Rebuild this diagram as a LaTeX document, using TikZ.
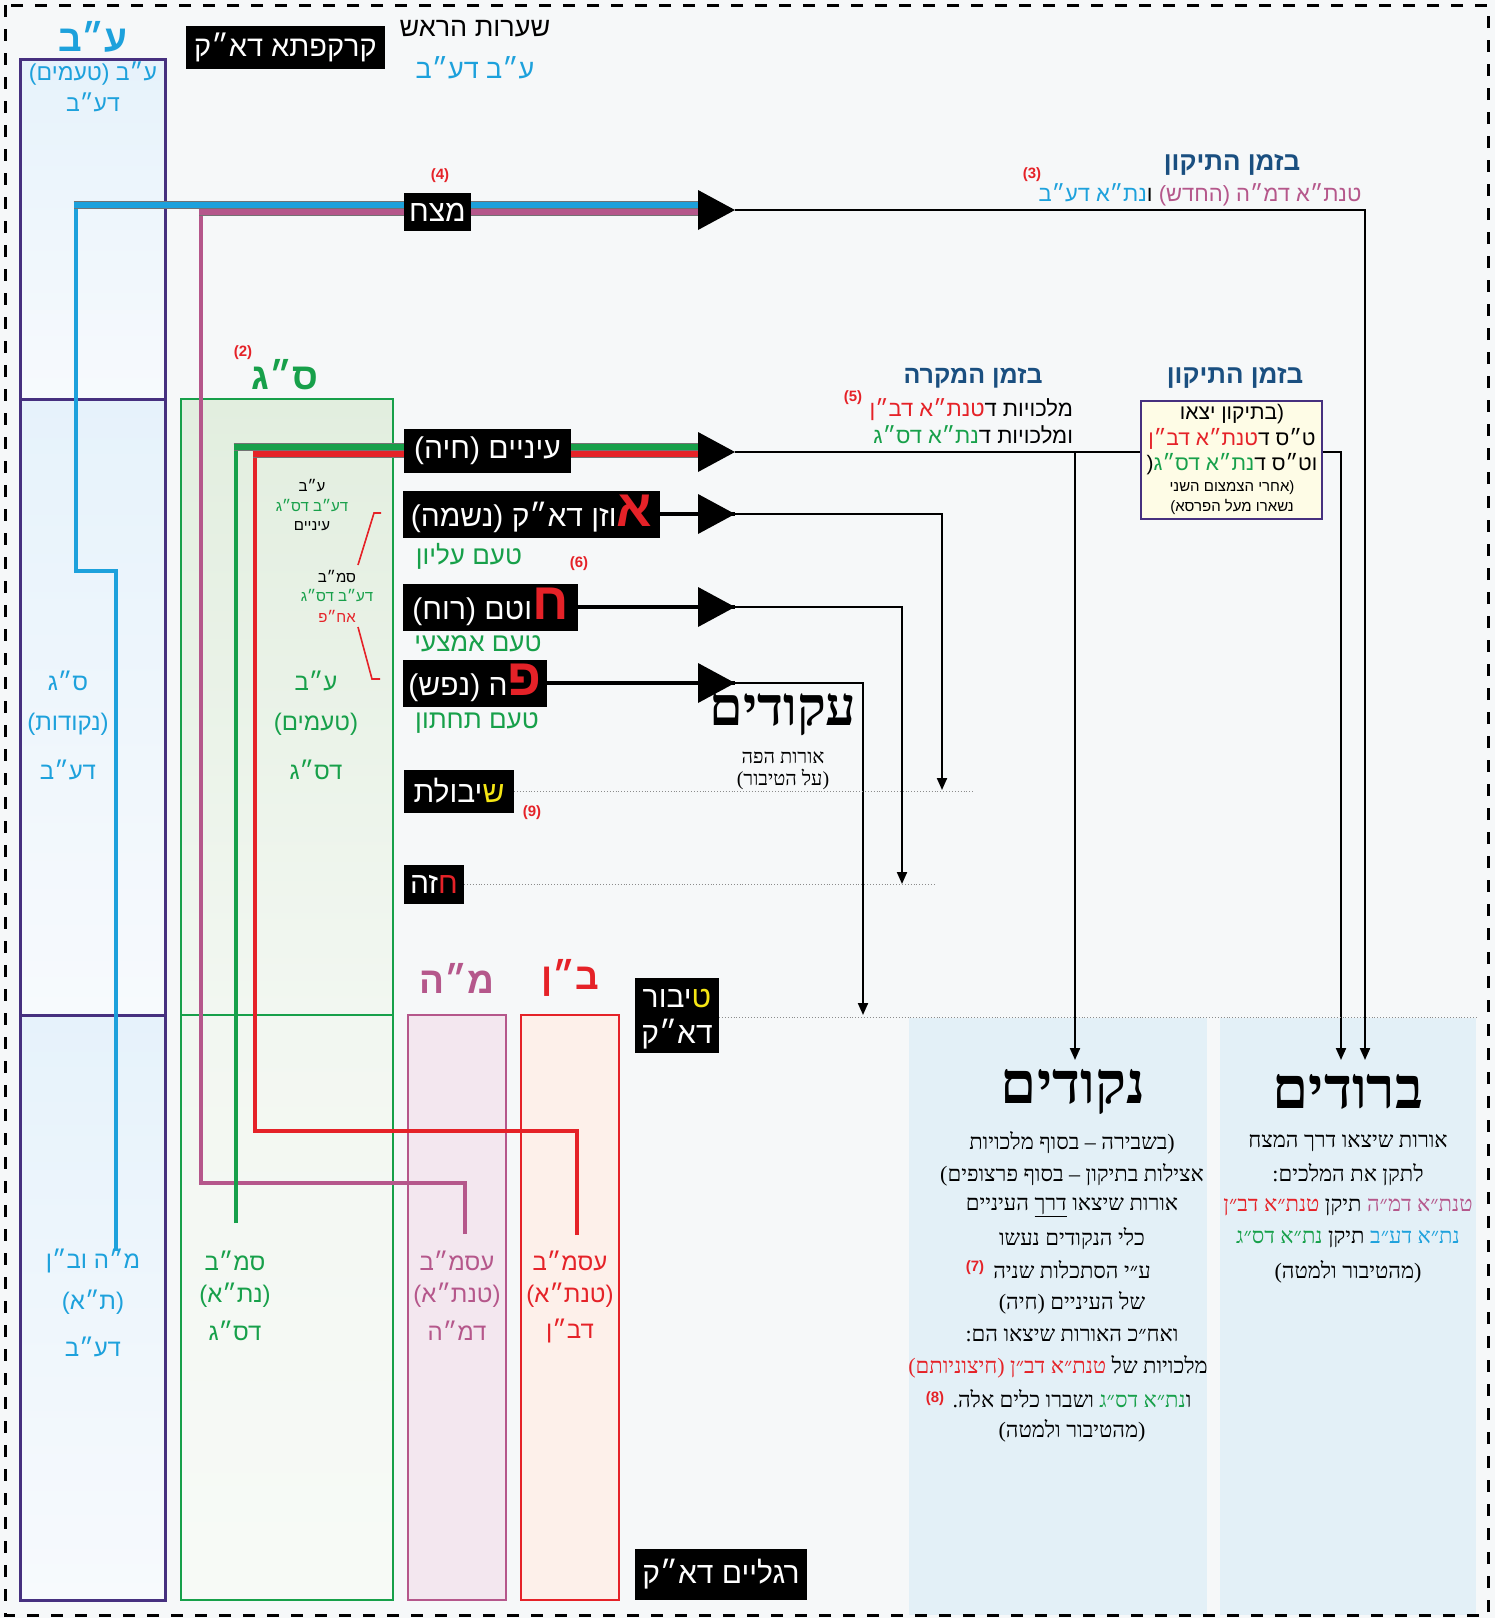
\documentclass[tikz,border=0pt]{standalone}
\usepackage{fontspec}
\usetikzlibrary{arrows.meta}
\TeXXeTstate=1
\newfontfamily\heb[Script=Hebrew]{Liberation Sans}
\newfontfamily\hebs[Script=Hebrew]{Liberation Serif}
\newcommand\fs[1]{\fontsize{#1}{#1}\selectfont}
\newcommand\RTx[1]{\beginR #1\endR}
\newcommand\seg[2]{{\color{#1}\beginR #2\endR}}
\definecolor{cblue}{HTML}{1DA1DC}
\definecolor{cgreen}{HTML}{17A04A}
\definecolor{cred}{HTML}{E52228}
\definecolor{cpink}{HTML}{B5578B}
\definecolor{cdblue}{HTML}{1A4F80}
\definecolor{cpurple}{HTML}{46307F}
\definecolor{cyellow}{HTML}{F5E614}
\definecolor{bg}{HTML}{F6F8F9}
\definecolor{panel}{HTML}{E3F0F7}
\definecolor{lbT}{HTML}{E6F2FB}
\definecolor{lbB}{HTML}{F7FAFD}
\definecolor{lgT}{HTML}{E2EEDF}
\definecolor{lgB}{HTML}{F2F7F1}
\definecolor{lpink}{HTML}{F3E7EF}
\definecolor{lred}{HTML}{FDF0EA}
\definecolor{cream}{HTML}{FEFCE6}
\begin{document}
\begin{tikzpicture}[x=1pt,y=-1pt]
\tikzset{
  txt/.style={inner sep=0pt,outer sep=0pt,font=\heb},
  bbox/.style={fill=black,text=white,inner sep=0pt,outer sep=0pt},
  num/.style={inner sep=0pt,outer sep=0pt,text=cred,font=\heb\bfseries\fs{15}},
  band/.style={line width=6.5pt},
  bandedge/.style={line width=8.2pt,black!55},
  vline/.style={line width=4.5pt},
  conn/.style={line width=2pt,black},
  endtip/.style={-{Triangle[length=12pt,width=10pt]}},
  dotl/.style={black!45,dotted,line width=0.9pt},
  thick/.style={line width=4.5pt,black},
}
\useasboundingbox (0,0) rectangle (1495,1618);
\fill[bg] (0,0) rectangle (1495,1618);
% panels
\fill[panel] (909,1018) rectangle (1207,1615);
\fill[panel] (1220,1018) rectangle (1476,1615);
% left column
\shade[top color=lbT,bottom color=lbB] (20,59) rectangle (165,399);
\shade[top color=lbT,bottom color=lbB] (20,399) rectangle (165,1015);
\shade[top color=lbT,bottom color=lbB] (20,1015) rectangle (165,1600);
\draw[cpurple,line width=3pt] (20,59) rectangle (165,1600) (20,399) -- (165,399) (20,1015) -- (165,1015);
% sg column
\shade[top color=lgT,bottom color=lgB] (181,399) rectangle (393,1015);
\shade[top color=lgB,bottom color=white!40!lgB] (181,1015) rectangle (393,1600);
\draw[cgreen,line width=2.5pt] (181,399) rectangle (393,1600) (181,1015) -- (393,1015);
% mh, bn
\draw[cpink,line width=2.5pt,fill=lpink] (408,1015) rectangle (506,1600);
\draw[cred,line width=2.5pt,fill=lred] (521,1015) rectangle (619,1600);

% coloured lines
\draw[cblue,vline] (116,1251) -- (116,571) -- (76,571) -- (76,205);
\draw[cpink,vline] (465,1234) -- (465,1183) -- (201,1183) -- (201,212);
\draw[cgreen,vline] (236,1223) -- (236,447);
\draw[cred,vline] (577,1235) -- (577,1131) -- (255,1131) -- (255,454);
\draw[bandedge] (73.5,205) -- (698,205);
\draw[cblue,band] (73.5,205) -- (698,205);
\draw[bandedge] (198.5,212) -- (698,212);
\draw[cpink,band] (198.5,212) -- (698,212);
\draw[bandedge] (233.5,447) -- (698,447);
\draw[cgreen,band] (233.5,447) -- (698,447);
\draw[bandedge] (252.5,454) -- (698,454);
\draw[cred,band] (252.5,454) -- (698,454);

% red bracket
\draw[cred,line width=1.6pt] (381,513) -- (374,513) -- (358,565);
\draw[cred,line width=1.6pt] (358,627) -- (372,679) -- (380,679);

% arrow apexes and targets
\coordinate (mzA) at (735,210);
\coordinate (mzT) at (1365,1060);
\coordinate (eyA) at (735,452);
\coordinate (eyB) at (1075,452);
\coordinate (eyN) at (1075,1060);
\coordinate (eyT) at (1341,1060);
\coordinate (ozA) at (735,514);
\coordinate (ozT) at (942,790);
\coordinate (chA) at (735,607);
\coordinate (chT) at (902,884);
\coordinate (pA) at (735,683);
\coordinate (pT) at (863,1015);

\draw[conn,endtip] (mzA) -| (mzT);
\draw[conn,endtip] (eyA) -| (eyT);
\draw[conn,endtip] (eyB) -- (eyN);
\draw[conn,endtip] (ozA) -| (ozT);
\draw[conn,endtip] (chA) -| (chT);
\draw[conn,endtip] (pA) -| (pT);

% black label boxes
\node[bbox,minimum width=67pt,minimum height=38pt,font=\heb\fs{30}] (mezach) at (437.5,212) {\RTx{מצח}};
\node[bbox,minimum width=167pt,minimum height=44pt,font=\heb\fs{30}] (einayim) at (487.5,451) {\RTx{עיניים (חיה)}};
\node[bbox,minimum width=257pt,minimum height=47pt,font=\heb\fs{30}] (ozen) at (531.5,514) {\seg{white}{וזן דא״ק (נשמה)}\seg{cred}{\fs{52}\bfseries א}};
\node[bbox,minimum width=175pt,minimum height=47pt,font=\heb\fs{30}] (chotem) at (490.5,607) {\seg{white}{וטם (רוח)}\seg{cred}{\fs{52}\bfseries ח}};
\node[bbox,minimum width=144pt,minimum height=47pt,font=\heb\fs{30}] (peh) at (475,683) {\seg{white}{ה (נפש)}\seg{cred}{\fs{52}\bfseries פ}};
\node[bbox,minimum width=110pt,minimum height=43pt,font=\heb\fs{30}] (shibolet) at (459,791) {\seg{white}{יבולת}\seg{cyellow}{ש}};
\node[bbox,minimum width=60pt,minimum height=39pt,font=\heb\fs{30}] (chaze) at (434,884) {\seg{white}{זה}\seg{cred}{ח}};
\node[bbox,minimum width=84pt,minimum height=75pt] (tibur) at (677,1015.5) {};
\node[txt,text=white,font=\heb\fs{30}] (tibur1) at (677,998) {\seg{white}{יבור}\seg{cyellow}{ט}};
\node[txt,text=white,font=\heb\fs{30}] (tibur2) at (677,1034) {\RTx{דא״ק}};
\node[bbox,minimum width=172pt,minimum height=51pt,font=\heb\fs{30}] (raglayim) at (721,1574.5) {\RTx{רגליים דא״ק}};
\node[bbox,minimum width=199pt,minimum height=43pt,font=\heb\fs{29}] (kark) at (285.5,47.5) {\RTx{קרקפתא דא״ק}};

% thick lines from boxes to big arrows
\draw[thick] (ozen.east) -- (ozA);
\draw[thick] (chotem.east) -- (chA);
\draw[thick] (peh.east) -- (pA);
\foreach \a in {mzA,eyA,ozA,chA,pA}{\fill (\a) -- ++(-37,-20) -- ++(0,40) -- cycle;}

% dotted lines
\coordinate (shD) at (975,791);
\coordinate (chD) at (934,884);
\coordinate (tbD) at (1476,1017);
\draw[dotl] (shibolet.east) -- (shD);
\draw[dotl] (chaze.east) -- (chD);
\draw[dotl] (tibur.east |- tbD) -- (tbD);

% top texts
\node[txt,text=cblue,font=\heb\bfseries\fs{37}] (tab) at (93,37) {\RTx{ע״ב}};
\node[txt,text=black,font=\heb\fs{27}] (seart) at (475,29) {\RTx{שערות הראש}};
\node[txt,text=cblue,font=\heb\fs{27}] (seartb) at (475,68) {\RTx{ע״ב דע״ב}};
\node[txt,text=cblue,font=\heb\fs{23}] (lc1) at (93,74) {\RTx{ע״ב (טעמים)}};
\node[txt,text=cblue,font=\heb\fs{23}] (lc2) at (93,102) {\RTx{דע״ב}};
\node[num] (n4) at (440,176) {(4)};
\node[txt,text=cdblue,font=\heb\bfseries\fs{26}] (hdr1) at (1232,165) {\RTx{בזמן התיקון}};
\node[txt,font=\heb\fs{22}] (hdr1b) at (1200,195) {\seg{cblue}{נת״א דע״ב}\seg{black}{ו}\ \seg{cpink}{טנת״א דמ״ה (החדש)}};
\node[num] (n3) at (1032,175) {(3)};

% sg header
\node[num] (n2) at (243,353) {(2)};
\node[txt,text=cgreen,font=\heb\bfseries\fs{37}] (sg) at (285,375) {\RTx{ס״ג}};

% bzman hamikre
\node[txt,text=cdblue,font=\heb\bfseries\fs{25}] (hdr2) at (973,378) {\RTx{בזמן המקרה}};
\node[num] (n5) at (853,398) {(5)};
\node[txt,anchor=east,font=\heb\fs{22}] (mk1) at (1073,410) {\seg{cred}{טנת״א דב״ן}\seg{black}{מלכויות ד}};
\node[txt,anchor=east,font=\heb\fs{22}] (mk2) at (1073,435) {\seg{cgreen}{נת״א דס״ג}\seg{black}{ומלכויות ד}};

% bzman hatikun box
\node[txt,text=cdblue,font=\heb\bfseries\fs{26}] (hdr3) at (1235,378) {\RTx{בזמן התיקון}};
\node[draw=cpurple,line width=1.8pt,fill=cream,minimum width=181pt,minimum height=118pt,inner sep=0pt] (tbox) at (1231.5,460) {};
\node[txt,font=\heb\fs{21}] (tb1) at (1232,414) {\RTx{(בתיקון יצאו}};
\node[txt,font=\heb\fs{21}] (tb2) at (1232,439) {\seg{cred}{טנת״א דב״ן}\seg{black}{ט״ס ד}};
\node[txt,font=\heb\fs{21}] (tb3) at (1232,464) {(\seg{cgreen}{נת״א דס״ג}\seg{black}{וט״ס ד}};
\node[txt,font=\heb\fs{15}] (tb4) at (1232,488) {\RTx{(אחרי הצמצום השני}};
\node[txt,font=\heb\fs{15}] (tb5) at (1232,507) {\RTx{נשארו מעל הפרסא)}};

% small texts in sg
\node[txt,font=\heb\fs{15}] (s1) at (312,486) {\RTx{ע״ב}};
\node[txt,text=cgreen,font=\heb\fs{15}] (s2) at (312,506) {\RTx{דע״ב דס״ג}};
\node[txt,font=\heb\fs{15}] (s3) at (312,526) {\RTx{עיניים}};
\node[txt,font=\heb\fs{15}] (s4) at (337,576) {\RTx{סמ״ב}};
\node[txt,text=cgreen,font=\heb\fs{15}] (s5) at (337,596) {\RTx{דע״ב דס״ג}};
\node[txt,text=cred,font=\heb\fs{15}] (s6) at (337,616) {\RTx{אח״פ}};

% green taam labels
\node[txt,text=cgreen,font=\heb\fs{26}] (taam1) at (469,556) {\RTx{טעם עליון}};
\node[num] (n6) at (579,564) {(6)};
\node[txt,text=cgreen,font=\heb\fs{26}] (taam2) at (478,644) {\RTx{טעם אמצעי}};
\node[txt,text=cgreen,font=\heb\fs{26}] (taam3) at (477,723) {\RTx{טעם תחתון}};
\node[num] (n9) at (532,813) {(9)};

% akudim
\node[txt,font=\hebs\bfseries\fs{54}] (akudim) at (783,715) {\RTx{עקודים}};
\node[txt,font=\hebs\fs{20}] (ak1) at (783,758) {\RTx{אורות הפה}};
\node[txt,font=\hebs\fs{20}] (ak2) at (783,779) {\RTx{(על הטיבור)}};

% left column mid/bottom labels
\node[txt,text=cblue,font=\heb\fs{24}] (lm1) at (68,681) {\RTx{ס״ג}};
\node[txt,text=cblue,font=\heb\fs{24}] (lm2) at (68,724) {\RTx{(נקודות)}};
\node[txt,text=cblue,font=\heb\fs{24}] (lm3) at (68,770) {\RTx{דע״ב}};
\node[txt,text=cblue,font=\heb\fs{24}] (lb1) at (93,1261) {\RTx{מ״ה וב״ן}};
\node[txt,text=cblue,font=\heb\fs{24}] (lb2) at (93,1302) {\RTx{(ת״א)}};
\node[txt,text=cblue,font=\heb\fs{24}] (lb3) at (93,1347) {\RTx{דע״ב}};
\node[txt,text=cgreen,font=\heb\fs{24}] (gm1) at (316,681) {\RTx{ע״ב}};
\node[txt,text=cgreen,font=\heb\fs{24}] (gm2) at (316,724) {\RTx{(טעמים)}};
\node[txt,text=cgreen,font=\heb\fs{24}] (gm3) at (316,770) {\RTx{דס״ג}};
\node[txt,text=cgreen,font=\heb\fs{24}] (gb1) at (235,1261) {\RTx{סמ״ב}};
\node[txt,text=cgreen,font=\heb\fs{24}] (gb2) at (235,1295) {\RTx{(נת״א)}};
\node[txt,text=cgreen,font=\heb\fs{24}] (gb3) at (235,1331) {\RTx{דס״ג}};
\node[txt,text=cpink,font=\heb\bfseries\fs{37}] (mh) at (457,978) {\RTx{מ״ה}};
\node[txt,text=cred,font=\heb\bfseries\fs{37}] (bn) at (570,978) {\RTx{ב״ן}};
\node[txt,text=cpink,font=\heb\fs{24}] (pb1) at (457,1261) {\RTx{עסמ״ב}};
\node[txt,text=cpink,font=\heb\fs{24}] (pb2) at (457,1295) {\RTx{(טנת״א)}};
\node[txt,text=cpink,font=\heb\fs{24}] (pb3) at (457,1331) {\RTx{דמ״ה}};
\node[txt,text=cred,font=\heb\fs{24}] (rb1) at (570,1261) {\RTx{עסמ״ב}};
\node[txt,text=cred,font=\heb\fs{24}] (rb2) at (570,1295) {\RTx{(טנת״א)}};
\node[txt,text=cred,font=\heb\fs{24}] (rb3) at (570,1331) {\RTx{דב״ן}};

% nekudim panel
\node[txt,font=\hebs\bfseries\fs{58}] (nekudim) at (1073,1092) {\RTx{נקודים}};
\node[txt,font=\hebs\fs{22}] (nk1) at (1072,1143) {\RTx{(בשבירה – בסוף מלכויות}};
\node[txt,font=\hebs\fs{22}] (nk2) at (1072,1175) {\RTx{אצילות בתיקון – בסוף פרצופים)}};
\node[txt,font=\hebs\fs{22}] (nk3) at (1072,1207) {\RTx{אורות שיצאו \underline{דרך} העיניים}};
\node[txt,font=\hebs\fs{22}] (nk4) at (1072,1239) {\RTx{כלי הנקודים נעשו}};
\node[txt,font=\hebs\fs{22}] (nk5) at (1072,1270) {\RTx{ע״י הסתכלות שניה}};
\node[num] (n7) at (975,1268) {(7)};
\node[txt,font=\hebs\fs{22}] (nk6) at (1072,1303) {\RTx{של העיניים (חיה)}};
\node[txt,font=\hebs\fs{22}] (nk7) at (1072,1335) {\RTx{ואח״כ האורות שיצאו הם:}};
\node[txt,font=\hebs\fs{22}] (nk8) at (1058,1367) {\seg{cred}{טנת״א דב״ן (חיצוניותם)}\ \seg{black}{מלכויות של}};
\node[txt,font=\hebs\fs{22}] (nk9) at (1072,1399) {\seg{black}{ושברו כלים אלה.}\ \seg{cgreen}{נת״א דס״ג}\seg{black}{ו}};
\node[num] (n8) at (935,1399) {(8)};
\node[txt,font=\hebs\fs{22}] (nk10) at (1072,1431) {\RTx{(מהטיבור ולמטה)}};

% brudim panel
\node[txt,font=\hebs\bfseries\fs{58}] (brudim) at (1348,1092) {\RTx{ברודים}};
\node[txt,font=\hebs\fs{22}] (br1) at (1348,1143) {\RTx{אורות שיצאו דרך המצח}};
\node[txt,font=\hebs\fs{22}] (br2) at (1348,1175) {\RTx{לתקן את המלכים:}};
\node[txt,font=\hebs\fs{22}] (br3) at (1348,1207) {\seg{cred}{טנת״א דב״ן}\ \seg{black}{תיקן}\ \seg{cpink}{טנת״א דמ״ה}};
\node[txt,font=\hebs\fs{22}] (br4) at (1348,1239) {\seg{cgreen}{נת״א דס״ג}\ \seg{black}{תיקן}\ \seg{cblue}{נת״א דע״ב}};
\node[txt,font=\hebs\fs{22}] (br5) at (1348,1272) {\RTx{(מהטיבור ולמטה)}};

% dashed frame
\draw[black,line width=3pt,dash pattern=on 12pt off 12pt] (5,5) rectangle (1488,1615);
\end{tikzpicture}
\end{document}
